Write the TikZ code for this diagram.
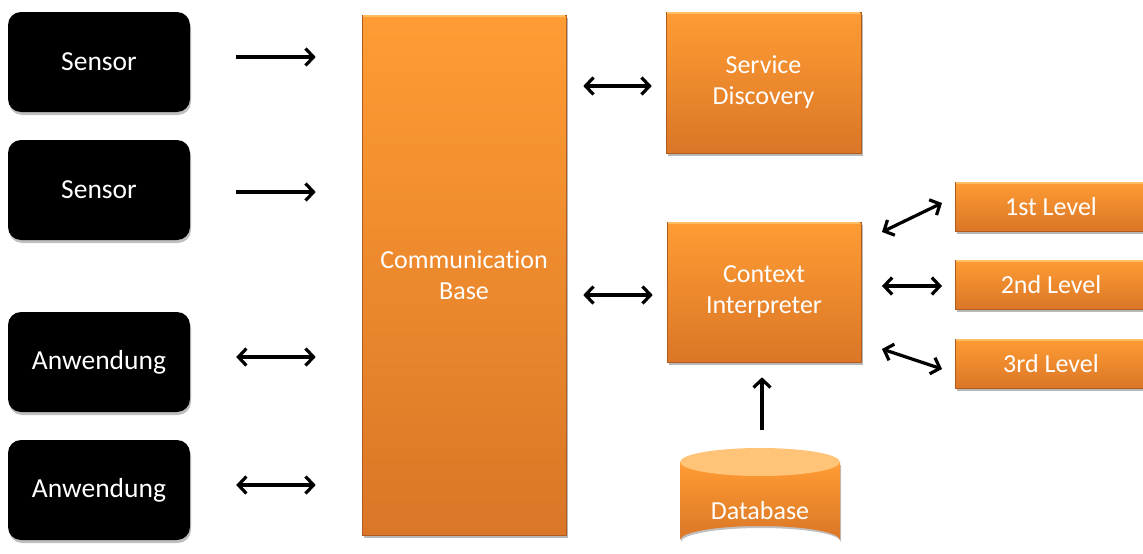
\documentclass[tikz,border=0pt]{standalone}
\usepackage{fontspec}
\setmainfont{Carlito}[Ligatures=NoCommon]
\usetikzlibrary{arrows.meta,shadows,calc}

\definecolor{ortop}{RGB}{255,156,52}
\definecolor{orbot}{RGB}{218,118,38}
\definecolor{orlight}{RGB}{255,196,120}
\definecolor{oredge}{RGB}{176,92,30}
\definecolor{orbevel}{RGB}{255,190,100}

\tikzset{
  blackbox/.style={rectangle, rounded corners=13pt, fill=black, text=white,
    minimum width=182pt, minimum height=100pt, inner sep=0pt,
    font=\fontsize{27.5}{32}\selectfont,
    general shadow={shadow xshift=1pt, shadow yshift=-3pt, fill=black, opacity=0.25}},
  orangebox/.style={rectangle, top color=ortop, bottom color=orbot, draw=oredge,
    line width=0.6pt, text=white, inner sep=0pt, align=center,
    font=\fontsize{26}{31}\selectfont,
    general shadow={shadow xshift=1.5pt, shadow yshift=-3pt, fill=black, opacity=0.28}},
  arrowtip/.tip={Straight Barb[length=8pt,width=17pt,line width=3.2pt]},
  onearrow/.style={line width=3.2pt, -arrowtip},
  twoarrow/.style={line width=3.2pt, arrowtip-arrowtip},
}

\begin{document}
\begin{tikzpicture}[x=1pt,y=-1pt]
\useasboundingbox (0,0) rectangle (1143,554);
\clip (0,0) rectangle (1143,554);

% sources on the left
\node[blackbox] (s1) at (99,62)  {Sensor};
\node[blackbox] (s2) at (99,190) {Sensor};
\node[blackbox] (a1) at (99,362) {Anwendung};
\node[blackbox] (a2) at (99,490) {Anwendung};

% central bus
\node[orangebox, minimum width=204pt, minimum height=520pt] (cb) at (464,275)
  {Communication\\Base};

% services
\node[orangebox, minimum width=195pt, minimum height=141pt] (sd) at (763.5,82.5)
  {Service\\Discovery};
\node[orangebox, minimum width=194pt, minimum height=140pt] (ci) at (764,292)
  {Context\\Interpreter};

% interpretation levels
\node[orangebox, minimum width=192pt, minimum height=49pt] (l1) at (1051,206.5) {1st Level};
\node[orangebox, minimum width=192pt, minimum height=49pt] (l2) at (1051,284.5) {2nd Level};
\node[orangebox, minimum width=192pt, minimum height=49pt] (l3) at (1051,363.5) {3rd Level};

% light bevel along the top edge of each orange box
\foreach \b in {cb,sd,ci,l1,l2,l3}
  \draw[orbevel, line width=1.6pt] ([xshift=1.5pt,yshift=-1.2pt]\b.north west) -- ([xshift=-1.5pt,yshift=-1.2pt]\b.north east);

% database cylinder
\fill[black, opacity=0.25] (681,465) -- (681,542) arc[start angle=180,end angle=360,x radius=80,y radius=14]
  -- (841,465) -- cycle;
\shade[top color=ortop, bottom color=orbot] (680,462) -- (680,540)
  arc[start angle=180,end angle=360,x radius=80,y radius=14] -- (840,462) -- cycle;
\fill[orlight] (760,462) ellipse[x radius=80,y radius=14];
\node[text=white, font=\fontsize{26}{30}\selectfont] (db) at (760,511) {Database};
\coordinate (dbtop) at (762,448);

% links into the central bus
\draw[onearrow, shorten <=46pt, shorten >=46pt] ($(s1.east)+(0,-5)$) -- ($(s1.east -| cb.west)+(0,-5)$);
\draw[onearrow, shorten <=46pt, shorten >=46pt] ($(s2.east)+(0,2)$) -- ($(s2.east -| cb.west)+(0,2)$);
\draw[twoarrow, shorten <=46pt, shorten >=46pt] ($(a1.east)+(0,-5)$) -- ($(a1.east -| cb.west)+(0,-5)$);
\draw[twoarrow, shorten <=46pt, shorten >=46pt] ($(a2.east)+(0,-5)$) -- ($(a2.east -| cb.west)+(0,-5)$);

% bus to services
\draw[twoarrow, shorten <=17pt, shorten >=14pt] (cb.east |- 0,86) -- (sd.west |- 0,86);
\draw[twoarrow, shorten <=17pt, shorten >=14pt] (cb.east |- 0,295) -- (ci.west |- 0,295);

% interpreter to levels
\coordinate (c1) at (882,232); \coordinate (e1) at (942,203);
\coordinate (c2) at (882,286); \coordinate (e2) at (942,286);
\coordinate (c3) at (882,349); \coordinate (e3) at (942,369);
\draw[twoarrow] (c1) -- (e1);
\draw[twoarrow] (c2) -- (e2);
\draw[twoarrow] (c3) -- (e3);

% database feeds the interpreter
\draw[onearrow, shorten <=18pt, shorten >=15pt] (dbtop) -- ($(ci.south)+(-2,0)$);
\end{tikzpicture}
\end{document}
